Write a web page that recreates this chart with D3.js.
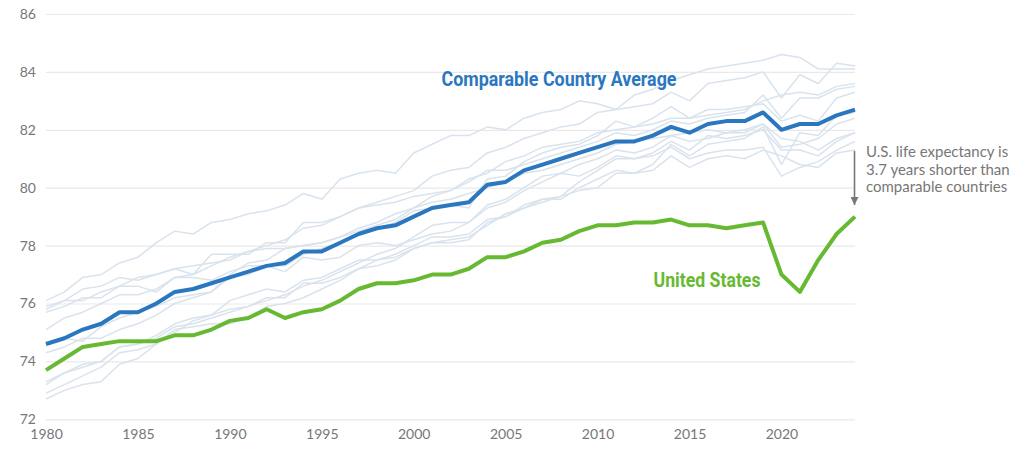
<!DOCTYPE html>
<html>
<head>
<meta charset="utf-8">
<script src="https://cdn.jsdelivr.net/npm/d3@7"></script>
<style>
html,body{margin:0;padding:0;background:#fff;}
svg{display:block;}
.tick text{font-family:Lato,"Open Sans",sans-serif;font-size:14px;fill:#777;}
</style>
</head>
<body>
<svg id="chart" width="1024" height="461"></svg>
<script>
const years = d3.range(1980, 2025);
const yTicks = [72, 74, 76, 78, 80, 82, 84, 86];
const xTicks = [1980, 1985, 1990, 1995, 2000, 2005, 2010, 2015, 2020];

const comparableAverage = [74.6,74.8,75.1,75.3,75.7,75.7,76.0,76.4,76.5,76.7,76.9,77.1,77.3,77.4,77.8,77.8,78.1,78.4,78.6,78.7,79.0,79.3,79.4,79.5,80.1,80.2,80.6,80.8,81.0,81.2,81.4,81.6,81.6,81.8,82.1,81.9,82.2,82.3,82.3,82.6,82.0,82.2,82.2,82.5,82.7];
const unitedStates = [73.7,74.1,74.5,74.6,74.7,74.7,74.7,74.9,74.9,75.1,75.4,75.5,75.8,75.5,75.7,75.8,76.1,76.5,76.7,76.7,76.8,77.0,77.0,77.2,77.6,77.6,77.8,78.1,78.2,78.5,78.7,78.7,78.8,78.8,78.9,78.7,78.7,78.6,78.7,78.8,77.0,76.4,77.5,78.4,79.0];

const japan = [76.1,76.4,76.9,77.0,77.4,77.6,78.1,78.5,78.4,78.8,78.9,79.1,79.2,79.4,79.8,79.6,80.3,80.5,80.6,80.5,81.2,81.5,81.8,81.8,82.1,82.0,82.4,82.6,82.7,83.0,82.9,82.7,83.2,83.4,83.7,83.9,84.1,84.2,84.3,84.4,84.6,84.5,84.1,84.1,84.1];
const switzerland = [75.7,75.9,76.2,76.2,76.6,76.9,77.0,77.2,77.3,77.4,77.5,77.8,78.0,78.2,78.6,78.7,79.0,79.3,79.5,79.7,79.9,80.4,80.6,80.7,81.2,81.4,81.7,81.9,82.1,82.2,82.6,82.7,82.8,82.9,83.3,83.0,83.6,83.7,83.8,84.0,83.1,83.9,83.6,84.3,84.2];
const australia = [74.6,74.8,74.7,75.2,75.5,75.7,75.9,76.2,76.3,76.4,77.0,77.4,77.5,77.9,78.0,78.1,78.3,78.6,78.8,79.1,79.3,79.7,79.9,80.3,80.5,80.9,81.1,81.4,81.5,81.6,81.9,82.0,82.1,82.2,82.4,82.4,82.5,82.6,82.7,83.0,83.2,83.3,83.2,83.5,83.6];
const sweden = [75.8,76.1,76.5,76.6,76.9,76.8,77.0,77.2,77.0,77.7,77.7,77.7,78.1,78.1,78.8,78.8,79.0,79.3,79.4,79.5,79.7,79.8,79.9,80.2,80.6,80.6,80.8,81.0,81.2,81.4,81.6,81.9,81.8,82.0,82.3,82.2,82.4,82.5,82.6,83.2,82.4,83.1,83.1,83.4,83.5];
const france = [74.3,74.5,74.8,74.8,75.1,75.3,75.6,76.0,76.2,76.4,76.9,77.0,77.3,77.3,77.7,77.9,78.1,78.4,78.6,78.8,79.2,79.3,79.4,79.3,80.3,80.4,80.9,81.2,81.4,81.5,81.8,82.3,82.1,82.4,82.8,82.4,82.7,82.7,82.8,82.9,82.3,82.5,82.3,83.1,83.3];
const netherlands = [75.9,76.1,76.1,76.4,76.6,76.6,76.4,76.9,76.9,76.8,77.1,77.3,77.3,77.1,77.6,77.5,77.6,78.0,78.1,78.0,78.2,78.4,78.5,78.8,79.4,79.6,80.0,80.4,80.5,80.8,81.0,81.3,81.2,81.4,81.8,81.6,81.7,81.9,81.9,82.2,81.4,81.5,81.7,82.2,82.4];
const austria = [72.7,73.0,73.2,73.3,73.9,74.1,74.6,75.0,75.4,75.6,75.8,75.9,76.1,76.3,76.6,76.8,77.1,77.4,77.7,77.9,78.3,78.7,78.8,78.8,79.3,79.5,79.9,80.2,80.5,80.4,80.7,81.1,81.0,81.2,81.6,81.3,81.8,81.7,81.8,82.0,81.3,81.3,81.1,81.6,81.9];
const belgium = [73.3,73.6,73.9,74.0,74.5,74.6,74.9,75.3,75.5,75.6,76.1,76.3,76.5,76.4,76.8,76.9,77.2,77.5,77.5,77.6,77.9,78.1,78.1,78.2,78.8,79.0,79.4,79.6,79.6,80.0,80.3,80.6,80.5,80.8,81.5,81.1,81.5,81.6,81.7,82.1,80.8,81.9,81.8,82.5,82.6];
const canada = [75.1,75.5,75.7,76.0,76.3,76.3,76.5,76.9,77.0,77.3,77.6,77.8,77.9,77.9,78.0,78.1,78.3,78.5,78.7,78.9,79.3,79.5,79.6,79.8,80.0,80.2,80.5,80.6,80.8,81.0,81.2,81.5,81.6,81.7,81.8,81.9,82.0,81.9,82.0,82.2,81.7,81.6,81.3,81.7,81.9];
const germany = [72.9,73.2,73.5,73.8,74.3,74.4,74.6,75.1,75.2,75.3,75.3,75.5,75.9,76.0,76.2,76.5,76.8,77.2,77.5,77.7,78.0,78.3,78.3,78.4,78.9,79.0,79.3,79.6,79.7,79.9,80.0,80.5,80.5,80.6,81.1,80.7,81.0,81.1,81.0,81.3,81.1,80.8,80.7,81.2,81.3];
const unitedKingdom = [73.2,73.6,73.8,74.0,74.5,74.6,74.8,75.2,75.3,75.5,75.7,75.9,76.2,76.2,76.7,76.7,76.9,77.2,77.3,77.5,77.9,78.1,78.2,78.3,78.7,79.1,79.3,79.5,79.7,80.2,80.6,81.0,81.0,81.1,81.4,81.0,81.2,81.3,81.3,81.4,80.4,80.7,80.9,81.3,81.6];

const countries = [japan, switzerland, australia, sweden, france, netherlands, austria, belgium, canada, germany, unitedKingdom];

const labelAverage = "Comparable Country Average";
const labelUS = "United States";
const noteLines = ["U.S. life expectancy is", "3.7 years shorter than", "comparable countries"];

const svg = d3.select("#chart");
const x = d3.scaleLinear().domain([1980, 2024]).range([46, 855]);
const y = d3.scaleLinear().domain([72, 86]).range([419.3, 14]);

// gridlines + y labels
const yAxis = svg.append("g")
  .attr("transform", "translate(46,0)")
  .call(d3.axisLeft(y).tickValues(yTicks).tickSize(-(855 - 46)).tickPadding(10).tickFormat(d3.format("d")));
yAxis.select(".domain").remove();
yAxis.selectAll(".tick line").attr("stroke", "#e9e9e9").attr("stroke-width", 1.2);

// x labels
const xAxis = svg.append("g")
  .attr("transform", "translate(0,425)")
  .call(d3.axisBottom(x).tickValues(xTicks).tickSize(0).tickPadding(4).tickFormat(d3.format("d")));
xAxis.select(".domain").remove();

const line = d3.line().x((d, i) => x(years[i])).y(d => y(d));

svg.append("g").selectAll("path").data(countries).join("path")
  .attr("d", line)
  .attr("fill", "none")
  .attr("stroke", "#d9e3ed")
  .attr("stroke-width", 1.5)
  .attr("stroke-linejoin", "round");

svg.append("path").datum(comparableAverage)
  .attr("d", line).attr("fill", "none")
  .attr("stroke", "#2a77bf").attr("stroke-width", 4).attr("stroke-linejoin", "round");

svg.append("path").datum(unitedStates)
  .attr("d", line).attr("fill", "none")
  .attr("stroke", "#67b932").attr("stroke-width", 4).attr("stroke-linejoin", "round");

// series labels
svg.append("text").text(labelAverage)
  .attr("x", 441.5).attr("y", 86)
  .attr("font-family", "Roboto, sans-serif").attr("font-weight", 700).attr("font-size", 20)
  .attr("textLength", 235).attr("lengthAdjust", "spacingAndGlyphs")
  .attr("fill", "#2a77bf");

svg.append("text").text(labelUS)
  .attr("x", 653.5).attr("y", 287.3)
  .attr("font-family", "Roboto, sans-serif").attr("font-weight", 700).attr("font-size", 20)
  .attr("textLength", 107).attr("lengthAdjust", "spacingAndGlyphs")
  .attr("fill", "#67b932");

// annotation arrow
svg.append("defs").append("marker")
  .attr("id", "arrow").attr("viewBox", "0 0 10 10").attr("refX", 10).attr("refY", 5)
  .attr("markerWidth", 5).attr("markerHeight", 5).attr("orient", "auto")
  .append("path").attr("d", "M0,0L10,5L0,10Z").attr("fill", "#777");

svg.append("line")
  .attr("x1", 854.5).attr("x2", 854.5).attr("y1", 151).attr("y2", 205)
  .attr("stroke", "#777").attr("stroke-width", 1.6)
  .attr("marker-end", "url(#arrow)");

svg.append("g").selectAll("text").data(noteLines).join("text")
  .text(d => d)
  .attr("x", 866).attr("y", (d, i) => 156.7 + i * 17.8)
  .attr("font-family", "Lato, sans-serif").attr("font-size", 15)
  .attr("fill", "#777");
</script>
</body>
</html>
